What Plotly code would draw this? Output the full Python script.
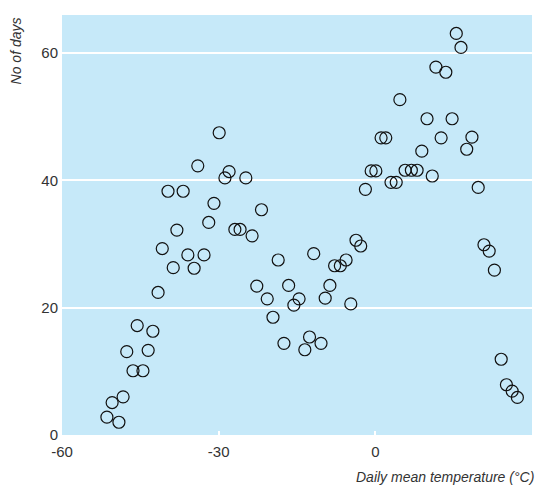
import plotly.graph_objects as go

temperature = [-51.4, -50.4, -49.1, -48.3, -47.6, -46.4, -45.6, -44.5, -43.5, -42.6,
               -41.6, -40.8, -39.7, -38.7, -38.0, -36.8, -35.9, -34.7, -34.0, -32.8,
               -31.9, -30.9, -29.9, -28.8, -28.0, -26.9, -25.9, -24.8, -23.6, -22.7,
               -21.8, -20.7, -19.6, -18.6, -17.5, -16.6, -15.6, -14.6, -13.5, -12.6,
               -11.8, -10.4, -9.6, -8.7, -7.8, -6.7, -5.6, -4.7, -3.7, -2.8,
               -1.9, -0.8, 0.1, 1.1, 2.0, 3.0, 4.0, 4.7, 5.7, 6.9,
               8.0, 8.9, 9.9, 10.9, 11.6, 12.6, 13.5, 14.7, 15.5, 16.4,
               17.5, 18.5, 19.7, 20.8, 21.8, 22.8, 24.1, 25.1, 26.2, 27.2]
days = [2.8, 5.1, 2.0, 6.0, 13.1, 10.1, 17.2, 10.1, 13.3, 16.3,
        22.4, 29.3, 38.3, 26.3, 32.2, 38.3, 28.3, 26.2, 42.3, 28.3,
        33.4, 36.4, 47.5, 40.4, 41.4, 32.3, 32.3, 40.4, 31.3, 23.4,
        35.4, 21.4, 18.5, 27.5, 14.4, 23.5, 20.4, 21.4, 13.4, 15.4,
        28.5, 14.4, 21.5, 23.5, 26.6, 26.6, 27.5, 20.6, 30.6, 29.7,
        38.6, 41.5, 41.5, 46.7, 46.7, 39.7, 39.7, 52.7, 41.6, 41.6,
        41.6, 44.6, 49.7, 40.7, 57.8, 46.7, 57.0, 49.7, 63.1, 60.9,
        44.9, 46.8, 38.9, 29.9, 28.9, 25.9, 11.9, 7.9, 6.9, 5.9]

x_ticks = [-60, -30, 0, 30]
x_tick_labels = ["-60", "-30", "0", "30"]
y_ticks = [0, 20, 40, 60]

FONT = "Liberation Sans Narrow, Arial Narrow, Liberation Sans, sans-serif"

fig = go.Figure()
fig.add_trace(go.Scatter(
    x=temperature, y=days, mode="markers",
    marker=dict(symbol="circle-open", size=12, color="#111111", line=dict(width=1.2, color="#111111")),
    hoverinfo="x+y", showlegend=False,
))

fig.update_layout(
    width=539, height=490,
    margin=dict(l=62, r=7, t=15, b=55),
    plot_bgcolor="#c6e9f9",
    paper_bgcolor="white",
    font=dict(family=FONT, size=15, color="#333333"),
    xaxis=dict(range=[-60, 30], tickvals=x_ticks, ticktext=x_tick_labels,
               showgrid=False, zeroline=False,
               ticks="inside", ticklen=4, tickwidth=2, tickcolor="white",
               ticklabelstandoff=6,
               showline=False, fixedrange=True),
    yaxis=dict(range=[0, 66], tickvals=y_ticks, showgrid=True, gridcolor="white", gridwidth=2,
               zeroline=False, showline=False, ticks="", ticklabelstandoff=3,
               fixedrange=True),
    annotations=[
        dict(text="<i>No of days</i>", xref="paper", yref="paper", x=-0.098, y=1.0,
             xanchor="center", yanchor="top", textangle=-90, showarrow=False,
             font=dict(family=FONT, size=14, color="#333333")),
        dict(text="<i>Daily mean temperature (°C)</i>", xref="paper", yref="paper",
             x=1.009, y=-0.099, xanchor="right", yanchor="middle", showarrow=False,
             font=dict(family=FONT, size=14, color="#333333")),
    ],
)

fig.write_html("out.html")
